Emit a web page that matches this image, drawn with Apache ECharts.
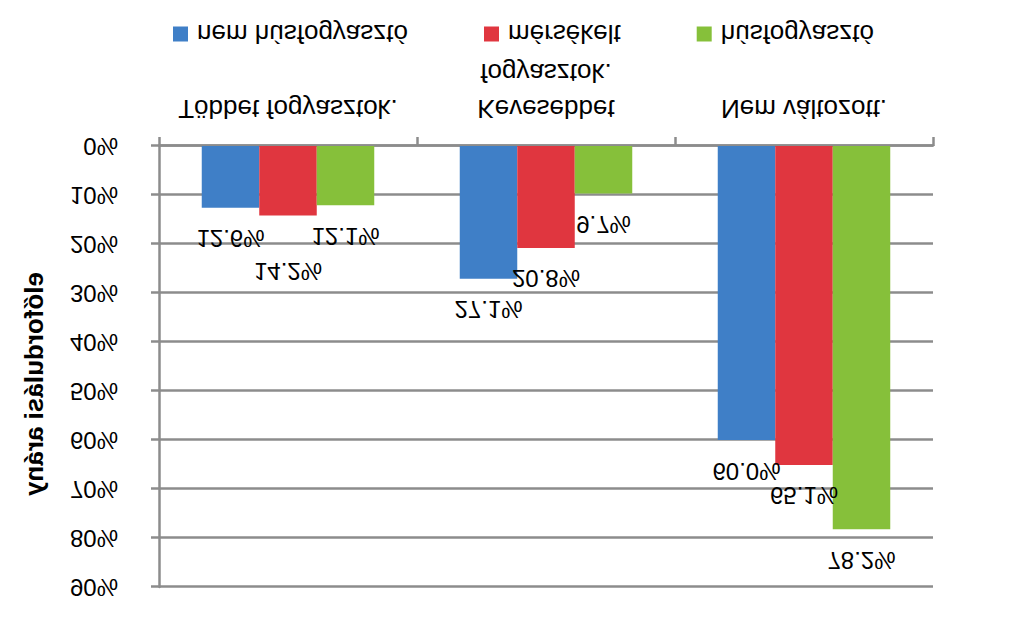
<!DOCTYPE html>
<html>
<head>
<meta charset="utf-8">
<script src="https://cdn.jsdelivr.net/npm/echarts@6/dist/echarts.min.js"></script>
<style>
  html, body { margin: 0; padding: 0; background: #ffffff; }
  #main { width: 1017px; height: 618px; transform: scaleY(-1); transform-origin: 50% 50%; }
</style>
</head>
<body>
<div id="main"></div>
<script>
// ---- data ----
var categories = ['Többet fogyasztok.', 'Kevesebbet\nfogyasztok.', 'Nem változott.'];
var seriesNames = ['nem húsfogyasztó', 'mérsékelt', 'húsfogyasztó'];
var nemHusfogyaszto = [12.6, 27.1, 60.0];
var mersekelt = [14.2, 20.8, 65.1];
var husfogyaszto = [12.1, 9.7, 78.2];
var yTicks = [0, 10, 20, 30, 40, 50, 60, 70, 80, 90];
var yTitle = 'előfordulási arány';

var colors = ['#3F7FC7', '#E0363F', '#86C03A'];
var font = "'Liberation Sans', Arial, sans-serif";

function labelCfg(dist) {
  return {
    show: true,
    position: 'top',
    distance: dist,
    color: '#000',
    fontFamily: font,
    fontSize: 24,
    formatter: function (p) { return Number(p.value).toFixed(1) + '%'; }
  };
}

function makeSeries(name, values, color, overrides) {
  return {
    name: name,
    type: 'bar',
    barWidth: 57.5,
    barGap: '0%',
    itemStyle: { color: color },
    label: labelCfg(19),
    data: values.map(function (v, i) {
      if (overrides && overrides[i] !== undefined) {
        return { value: v, label: { distance: overrides[i] } };
      }
      return v;
    })
  };
}

var chart = echarts.init(document.getElementById('main'), null, { renderer: 'svg' });
chart.setOption({
  animation: false,
  backgroundColor: '#ffffff',
  textStyle: { fontFamily: font },
  grid: { left: 159, right: 84, top: 31, bottom: 146, containLabel: false },
  legend: {
    left: 168,
    top: 566,
    orient: 'horizontal',
    itemWidth: 15,
    itemHeight: 15,
    itemGap: 76,
    icon: 'rect',
    textStyle: { color: '#000', fontSize: 26, fontFamily: font, padding: [0, 0, 0, 4] },
    data: seriesNames
  },
  xAxis: {
    type: 'category',
    data: categories,
    axisLine: { lineStyle: { color: '#8c8c8c', width: 2.5 } },
    axisTick: { show: true, length: 9, lineStyle: { color: '#8c8c8c', width: 2.5 } },
    axisLabel: { color: '#000', fontSize: 26, fontFamily: font, margin: 19, lineHeight: 36, interval: 0 }
  },
  yAxis: {
    type: 'value',
    min: yTicks[0],
    max: yTicks[yTicks.length - 1],
    interval: 10,
    axisLine: { show: true, lineStyle: { color: '#8c8c8c', width: 2.5 } },
    axisTick: { show: true, length: 8, lineStyle: { color: '#8c8c8c', width: 2.5 } },
    splitLine: { show: true, lineStyle: { color: '#8c8c8c', width: 2.5 } },
    axisLabel: { color: '#000', fontSize: 24, fontFamily: font, margin: 41, formatter: '{value}%' }
  },
  graphic: [{
    type: 'text',
    x: 34,
    y: 234,
    rotation: Math.PI / 2,
    style: {
      text: yTitle,
      fill: '#000',
      font: "bold 26px 'Liberation Sans', Arial, sans-serif",
      textAlign: 'center',
      textVerticalAlign: 'middle'
    }
  }],
  series: [
    makeSeries(seriesNames[0], nemHusfogyaszto, colors[0]),
    makeSeries(seriesNames[1], mersekelt, colors[1], { 0: 44 }),
    makeSeries(seriesNames[2], husfogyaszto, colors[2])
  ]
});
</script>
</body>
</html>
